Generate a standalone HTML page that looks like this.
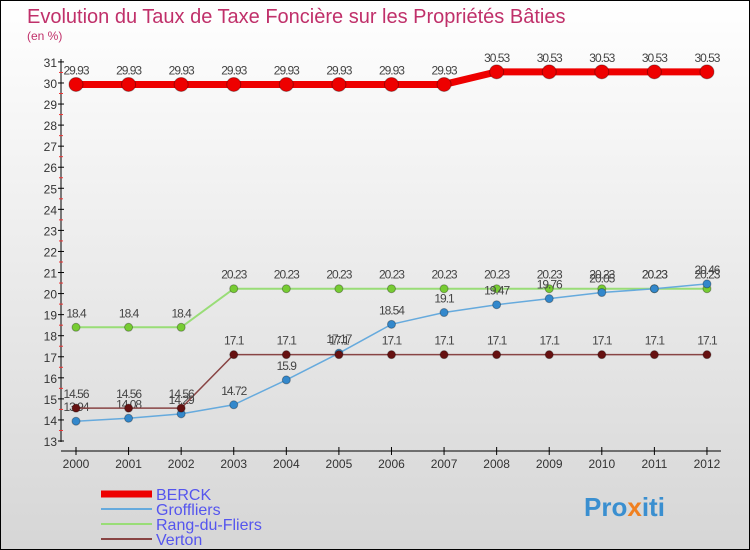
<!DOCTYPE html>
<html><head><meta charset="utf-8"><style>
body{margin:0;}
#wrap{width:750px;height:550px;position:relative;box-sizing:border-box;border:1px solid #000;background:linear-gradient(#fff,#d6d6d6);font-family:"Liberation Sans",sans-serif;overflow:hidden}
svg text{font-family:"Liberation Sans",sans-serif}
</style></head><body>
<div id="wrap">
<svg id="c" width="750" height="550">
<text x="26" y="22" font-size="20" fill="#c0306a">Evolution du Taux de Taxe Foncière sur les Propriétés Bâties</text>
<text x="26" y="39" font-size="12" fill="#c0306a">(en %)</text>
<g id="g"></g>
<g><text x="583" y="515" font-size="26" font-weight="bold" fill="#3a8fd0">Pro<tspan fill="#f08020">x</tspan>iti</text></g>
</svg>
</div>
<script>
const years=[2000,2001,2002,2003,2004,2005,2006,2007,2008,2009,2010,2011,2012];
const berck=[29.93,29.93,29.93,29.93,29.93,29.93,29.93,29.93,30.53,30.53,30.53,30.53,30.53];
const groffliers=[13.94,14.08,14.29,14.72,15.9,17.17,18.54,19.1,19.47,19.76,20.05,20.23,20.46];
const rang=[18.4,18.4,18.4,20.23,20.23,20.23,20.23,20.23,20.23,20.23,20.23,20.23,20.23];
const verton=[14.56,14.56,14.56,17.1,17.1,17.1,17.1,17.1,17.1,17.1,17.1,17.1,17.1];
const yTicks=[13,14,15,16,17,18,19,20,21,22,23,24,25,26,27,28,29,30,31];
const X=i=>75+i*52.58, Y=v=>440-(v-13)*21.06;
const g=document.getElementById('g'),NS='http://www.w3.org/2000/svg';
function mk(t,a,p){const e=document.createElementNS(NS,t);for(const k in a)e.setAttribute(k,a[k]);(p||g).appendChild(e);return e;}
let e=mk('line',{x1:60,y1:58,x2:60,y2:441,stroke:'#000'});


e=mk('line',{x1:60,y1:450,x2:720,y2:450,stroke:'#000'});


yTicks.forEach(v=>{
 mk('line',{x1:57,x2:63,y1:Y(v),y2:Y(v),stroke:'#000'});
 if(v<31)mk('line',{x1:58,x2:62,y1:Y(v+0.5),y2:Y(v+0.5),stroke:'#e33'});
 e=mk('text',{x:56,y:Y(v)+5,'font-size':12,'text-anchor':'end',fill:'#333'});e.textContent=v;
 
 
});
years.forEach((y,i)=>{
 mk('line',{x1:X(i),x2:X(i),y1:446,y2:454,stroke:'#000'});
 e=mk('text',{x:X(i),y:467,'font-size':12,'text-anchor':'middle',fill:'#333'});e.textContent=y;
 
 
});
function series(d,col,w,r,dot,name){
 e=mk('polyline',{points:d.map((v,i)=>X(i)+','+Y(v)).join(' '),fill:'none',stroke:col,'stroke-width':w});
 
 
 d.forEach((v,i)=>{
  e=mk('circle',{cx:X(i),cy:Y(v),r:r,fill:dot,stroke:'rgba(0,0,0,0.3)'});
  
  
  e=mk('text',{x:X(i),y:Y(v)-10,'font-size':12,'text-anchor':'middle',fill:'#444','letter-spacing':'-1'});e.textContent=v;
  
  
 });
}
series(rang,'#99dd77',2,4,'#77cc33','rang-du-fliers');
series(groffliers,'#66aadd',1.5,4,'#3388cc','groffliers');
series(verton,'#884444',1.5,4,'#661111','verton');
series(berck,'#ee0000',7,7,'#ee0000','berck');
const leg=[['BERCK','#ee0000',7],['Groffliers','#66aadd',2],['Rang-du-Fliers','#99dd77',2],['Verton','#884444',2]];
leg.forEach((l,i)=>{
 const y=493+i*15;
 e=mk('line',{x1:100,x2:151,y1:y,y2:y,stroke:l[1],'stroke-width':l[2]});
 
 
 e=mk('text',{x:155,y:y+6,'font-size':16,fill:'#5555ee'});e.textContent=l[0];
 
 
});
</script>
</body></html>
